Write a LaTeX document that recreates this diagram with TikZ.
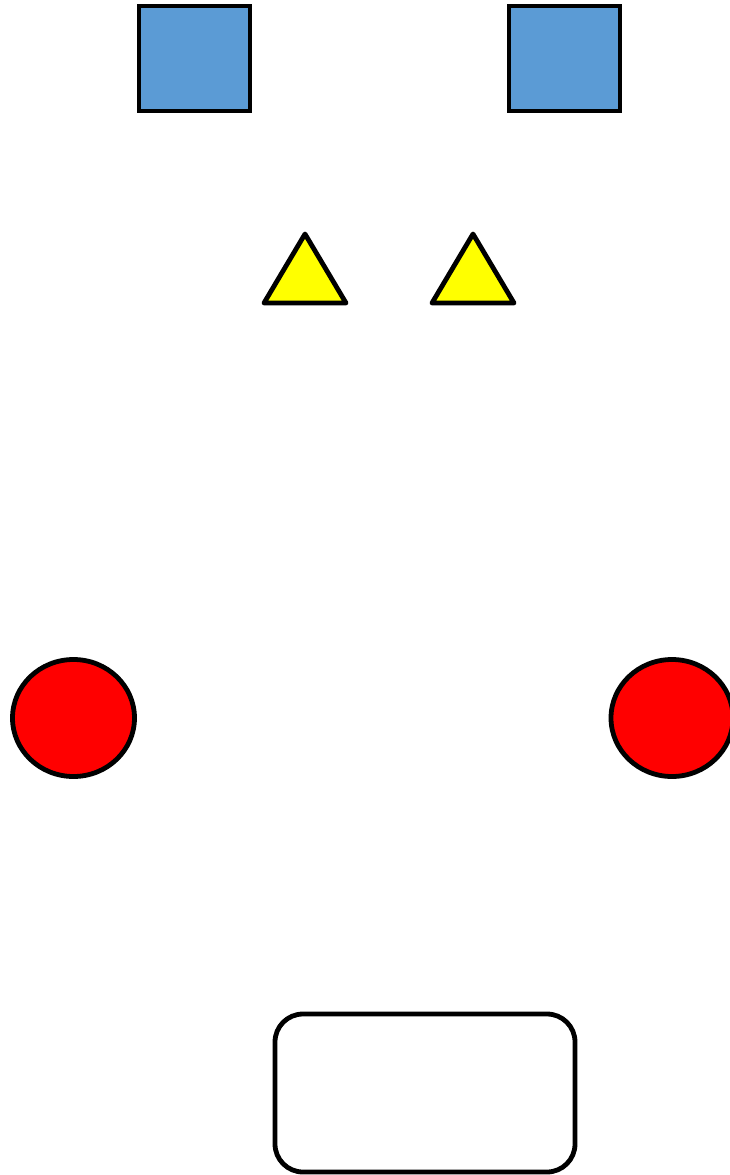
\documentclass[tikz,border=0pt]{standalone}
\usetikzlibrary{shapes.geometric}
\definecolor{sqblue}{HTML}{5B9BD5}
\definecolor{triyellow}{HTML}{FFFF00}
\definecolor{circred}{HTML}{FF0000}
\tikzset{
  outl/.style={draw=black, line width=4.8pt, line join=round},
  sqshape/.style={outl, fill=sqblue, line join=miter},
  trishape/.style={outl, fill=triyellow},
  circshape/.style={outl, fill=circred},
  boxshape/.style={outl, fill=white, rounded corners=28pt},
}
\begin{document}
\begin{tikzpicture}[x=1pt,y=-1pt]
\useasboundingbox (0,0) rectangle (730,1175);
% squares
\draw[sqshape] (139,6) rectangle (250,111);
\draw[sqshape] (509,6) rectangle (620,111);
% triangles
\draw[trishape] (305,234) -- (346,303) -- (264,303) -- cycle;
\draw[trishape] (473,234) -- (514,303) -- (432,303) -- cycle;
% circles
\draw[circshape] (73.5,718) ellipse [x radius=61, y radius=58.5];
\draw[circshape] (672,718) ellipse [x radius=61, y radius=58.5];
% rounded box
\draw[boxshape] (275,1014) rectangle (575,1172);
\end{tikzpicture}
\end{document}
